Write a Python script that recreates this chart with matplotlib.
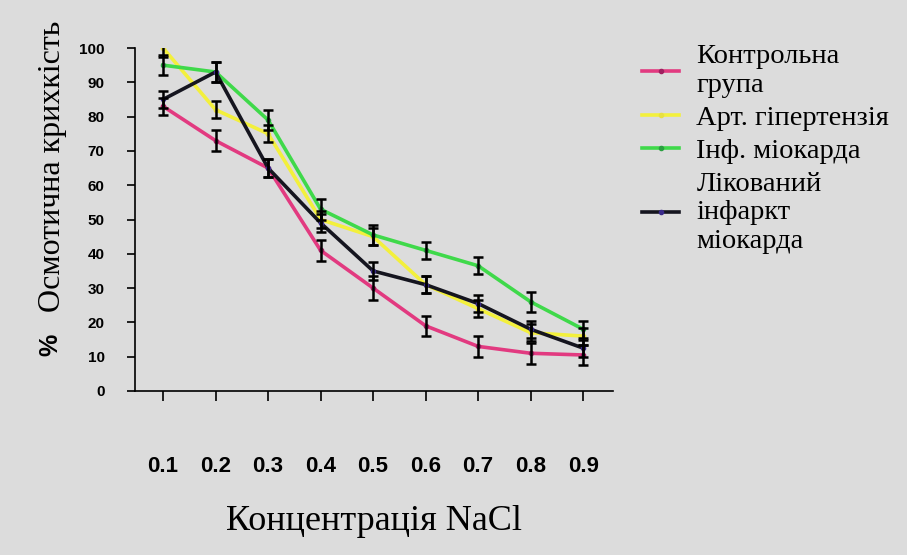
import matplotlib.pyplot as plt

conc = [0.1, 0.2, 0.3, 0.4, 0.5, 0.6, 0.7, 0.8, 0.9]
control = [83, 73, 65, 41, 30, 19, 13, 11, 10.5]
hypert = [100, 82, 75, 50, 45, 31, 24, 17, 16]
infarct = [95, 93, 79, 53, 45.5, 41, 36.5, 26, 18]
treated = [85, 93, 65, 49, 35, 31, 25.5, 18, 12.5]
err_control = [2.5, 3, 2.5, 3, 3.5, 3, 3, 3, 3]
err_hypert = [2.5, 2.5, 2.5, 2.5, 2.5, 2.5, 2.5, 2.5, 2.5]
err_infarct = [3, 3, 3, 3, 3, 2.5, 2.5, 3, 2.5]
err_treated = [2.5, 3, 2.5, 2.5, 2.5, 2.5, 2.5, 2.5, 2.5]

labels = ["Контрольна\nгрупа", "Арт. гіпертензія", "Інф. міокарда",
          "Лікований\nінфаркт\nміокарда"]
colors = ["#e23a80", "#f3f03c", "#3fd94a", "#15151f"]
mcolors = ["#a02060", "#e8e040", "#2aa040", "#3a2a8a"]

bg = "#dcdcdc"
fig = plt.figure(figsize=(9.07, 5.55), dpi=100, facecolor=bg)
ax = fig.add_axes([0.149, 0.2955, 0.527, 0.618], facecolor=bg)

series = [control, hypert, infarct, treated]
errs = [err_control, err_hypert, err_infarct, err_treated]
for s, e, c, mc, lab in zip(series, errs, colors, mcolors, labels):
    ax.errorbar(conc, s, yerr=e, fmt="none", ecolor="black", elinewidth=1.8,
                capsize=3.5, capthick=1.8, zorder=3)
    ax.plot(conc, s, color=c, lw=2.6, marker="o", ms=3, mfc=mc, mec=mc,
            label=lab, zorder=2)

ax.set_xlim(0.0469, 0.957)
ax.set_ylim(0, 100)
ax.set_xticks(conc)
ax.set_xticklabels([str(c) for c in conc], fontsize=16, fontweight="bold",
                   family="Liberation Sans")
ax.set_yticks(range(0, 101, 10))
ax.set_yticklabels([str(v) for v in range(0, 101, 10)], fontsize=11,
                   fontweight="bold", family="Liberation Sans")
ax.tick_params(axis="x", length=7, width=1.2, pad=40)
ax.tick_params(axis="y", length=6, width=1.2, pad=16)
for sp in ["top", "right"]:
    ax.spines[sp].set_visible(False)
ax.spines["left"].set_linewidth(1.2)
ax.spines["bottom"].set_linewidth(1.2)

ax.set_xlabel("Концентрація NaCl", fontsize=26, family="Liberation Serif",
              labelpad=20)
# y label: bold sans "%" and serif text, rotated
fig.text(0.056, 0.378, "%", rotation=90, fontsize=18, fontweight="bold",
         family="Liberation Sans", ha="center", va="center")
fig.text(0.058, 0.70, "Осмотична крихкість", rotation=90, fontsize=23,
         family="Liberation Serif", ha="center", va="center")

fig.legend(loc="upper left", bbox_to_anchor=(0.680, 0.966), frameon=False,
           prop={"family": "Liberation Serif", "size": 20.5},
           handlelength=1.3, handletextpad=0.6, labelspacing=0.25)

fig.savefig("out.png", dpi=100, facecolor=bg)
